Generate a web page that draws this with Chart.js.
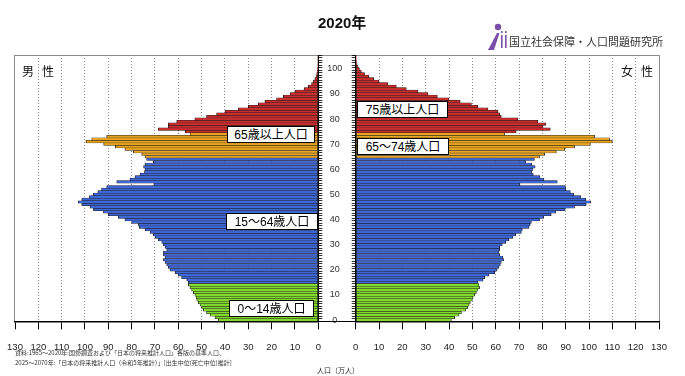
<!DOCTYPE html>
<html><head><meta charset="utf-8">
<script src="https://cdn.jsdelivr.net/npm/chart.js@4"></script>
<style>
html,body{margin:0;padding:0;background:#fff;}
body{width:685px;height:376px;position:relative;overflow:hidden;font-family:"Liberation Sans","Noto Sans CJK JP",sans-serif;color:#111;}
.abs{position:absolute;white-space:nowrap;line-height:1;}
#frame{position:absolute;left:14px;top:55px;width:646px;height:267px;box-sizing:border-box;border-top:1px solid #8c8c8c;border-left:1.5px solid #8c8c8c;border-right:1.5px solid #8c8c8c;border-bottom:1.5px solid #000;}
canvas{position:absolute;top:0;}
.box{position:absolute;background:#fff;border:1px solid #000;box-sizing:border-box;font-size:12px;line-height:1;display:flex;align-items:center;justify-content:center;font-family:"Liberation Sans","Noto Sans CJK JP",sans-serif;color:#000;z-index:5;}
.txt{z-index:5;}
</style>
</head><body>
<div id="frame"></div>
<canvas id="male" width="350" height="376" style="left:0;width:350px;height:376px;"></canvas>
<canvas id="female" width="345" height="376" style="left:340px;width:345px;height:376px;"></canvas>

<div class="abs txt" style="left:318px;top:15px;font-size:15px;font-weight:bold;font-family:'Liberation Sans','Noto Sans CJK JP',sans-serif;">2020年</div>
<svg class="abs" style="left:487px;top:23px;" width="22" height="28" viewBox="0 0 22 28">
  <circle cx="11" cy="4" r="3.2" fill="#7b4fa8"/>
  <path d="M1 27 L10 10 L12.5 10 L7 27 Z" fill="#7b4fa8"/>
  <rect x="14" y="12" width="1.6" height="13" fill="#7b4fa8"/>
  <rect x="18" y="12" width="1.6" height="13" fill="#7b4fa8"/>
  <circle cx="14.8" cy="9" r="1.1" fill="#7b4fa8"/>
  <circle cx="18.8" cy="9" r="1.1" fill="#7b4fa8"/>
</svg>
<div class="abs txt" style="left:509px;top:36px;font-size:11px;color:#333;font-family:'Noto Sans CJK JP',sans-serif;">国立社会保障・人口問題研究所</div>

<div class="abs txt" style="left:22px;top:65px;font-size:12px;font-family:'Noto Sans CJK JP',sans-serif;">男<span style="margin-left:8px">性</span></div>
<div class="abs txt" style="left:621px;top:65px;font-size:12px;font-family:'Noto Sans CJK JP',sans-serif;">女<span style="margin-left:8px">性</span></div>

<div class="box" style="left:227px;top:126px;width:88px;height:17px;">65歳以上人口</div>
<div class="box" style="left:226px;top:213px;width:92px;height:17px;">15～64歳人口</div>
<div class="box" style="left:229px;top:300px;width:85px;height:17px;">0～14歳人口</div>
<div class="box" style="left:357px;top:101px;width:91px;height:17px;">75歳以上人口</div>
<div class="box" style="left:357px;top:138px;width:92px;height:17px;">65～74歳人口</div>

<div class="abs txt" style="left:15px;top:350px;font-size:6px;color:#333;font-family:'Noto Sans CJK JP',sans-serif;">資料:1965～2020年:国勢調査および「日本の将来推計人口」各版の基準人口、</div>
<div class="abs txt" style="left:15px;top:359.5px;font-size:6px;color:#333;font-family:'Noto Sans CJK JP',sans-serif;">2025～2070年:「日本の将来推計人口（令和5年推計）」[出生中位(死亡中位)推計]</div>
<div class="abs txt" style="left:317px;top:367px;font-size:7px;color:#222;font-family:'Noto Sans CJK JP',sans-serif;">人口（万人）</div>

<script>
// ---- data (values in 万人) ----
const ages = [0,1,2,3,4,5,6,7,8,9,10,11,12,13,14,15,16,17,18,19,20,21,22,23,24,25,26,27,28,29,30,31,32,33,34,35,36,37,38,39,40,41,42,43,44,45,46,47,48,49,50,51,52,53,54,55,56,57,58,59,60,61,62,63,64,65,66,67,68,69,70,71,72,73,74,75,76,77,78,79,80,81,82,83,84,85,86,87,88,89,90,91,92,93,94,95,96,97,98,99,100,101,102,103,104,105];

const maleValues = [
 42.9,44.3,46.4,47.9,49.3,50.0,50.7,51.4,52.1,52.4,
 52.9,53.6,54.3,55.0,55.7,55.7,56.4,58.6,60.0,61.4,
 63.6,64.3,65.0,65.7,66.4,65.7,66.4,66.4,65.0,65.7,
 66.4,67.1,68.6,70.0,70.7,72.1,74.3,76.7,77.1,80.0,
 82.9,85.7,90.0,92.1,96.4,97.9,101.4,102.9,101.4,98.1,
 96.4,94.5,92.9,90.7,70.5,86.4,80.7,78.6,76.4,74.5,
 74.3,74.9,74.3,70.7,73.6,74.3,75.7,79.3,82.9,87.0,
 92.0,99.6,97.1,90.7,55.0,57.0,68.6,64.3,64.3,60.7,
 52.9,47.9,43.6,40.0,34.3,30.0,25.7,22.9,17.9,15.0,
 12.1,10.0,6.1,4.3,2.9,2.1,1.5,1.0,0.7,0.45,
 0.3,0.2,0.12,0.08,0.05,0.03
];

const femaleValues = [
 41.0,42.4,44.3,45.3,47.1,48.1,48.6,49.1,50.0,50.3,
 51.0,51.7,52.4,53.1,52.8,52.4,54.6,55.3,57.1,59.6,
 60.6,61.4,62.0,62.4,63.4,63.1,61.7,61.4,61.7,61.7,
 62.8,64.3,65.7,67.4,68.6,71.0,71.4,74.3,74.8,75.3,
 78.8,80.6,83.8,85.7,89.8,93.8,98.8,100.7,98.6,96.4,
 93.4,92.0,90.1,89.9,70.4,86.4,80.7,79.0,76.1,75.4,
 75.8,76.9,75.5,72.9,76.6,78.8,81.0,86.0,89.6,93.8,
 100.6,110.0,108.8,102.4,63.8,68.8,83.4,80.3,81.4,78.0,
 69.5,62.4,61.7,61.0,56.7,52.4,49.6,44.8,40.0,35.0,
 31.0,26.7,21.7,17.4,13.8,10.0,7.7,5.7,3.8,2.4,
 1.6,1.0,0.6,0.35,0.2,0.1
];

const groupNames   = ['0～14歳人口','15～64歳人口','65～74歳人口','75歳以上人口'];
const groupMinAge  = [0, 15, 65, 75];
const groupMaxAge  = [14, 64, 74, 105];
const groupColors  = ['#84D92E','#3F67D6','#E9A521','#C92E2E'];

const xTickLabels = [0,10,20,30,40,50,60,70,80,90,100,110,120,130];
const yTickLabels = [0,10,20,30,40,50,60,70,80,90,100];

function makeDatasets(values){
  return groupNames.map((name, g) => ({
    label: name,
    data: values.map((v, i) => (ages[i] >= groupMinAge[g] && ages[i] <= groupMaxAge[g]) ? v : null),
    backgroundColor: groupColors[g],
    borderColor: '#1c1c1c',
    borderWidth: {top:0.5, bottom:0.5, left:0.8, right:0.8},
    borderSkipped: false,
    barPercentage: 1,
    categoryPercentage: 1
  }));
}

function xScale(reverse){
  return {
    type:'linear', min:0, max:130, reverse: reverse, stacked:true,
    afterBuildTicks: s => { s.ticks = xTickLabels.map(v => ({value:v})); },
    ticks:{ autoSkip:false, maxRotation:0, color:'#222', padding:12,
            font:{family:'Liberation Sans', size:9.5} },
    grid:{ color: c => (c.tick && (c.tick.value === 0 || c.tick.value === 130)) ? 'rgba(0,0,0,0)' : '#8a8a8a',
           lineWidth:1, tickLength:8, tickColor:'#000', tickWidth:1, tickBorderDash:[] },
    border:{ display:true, color:'#000', width:1.5, dash:[1,2] },
    afterFit: s => { s.height = 54.7; }
  };
}

function yScale(position, showLabels, axisWidth){
  return {
    type:'category', position: position, reverse:true, stacked:true,
    ticks:{ autoSkip:false, color:'#333', padding:5, crossAlign:'center',
            font:{family:'Liberation Sans', size:9},
            callback: (v, i) => (showLabels && yTickLabels.indexOf(ages[i]) >= 0) ? String(ages[i]) : '' },
    grid:{ drawOnChartArea:false, tickLength:4, color:'#000', tickColor:'#000', tickWidth:0.8 },
    border:{ display:true, color:'#000', width:1 },
    afterFit: s => { s.width = axisWidth; }
  };
}

function makeChart(id, values, reverse, yPos, showLabels, axisWidth, padding){
  return new Chart(document.getElementById(id), {
    type:'bar',
    data:{ labels: ages.map(String), datasets: makeDatasets(values) },
    options:{
      indexAxis:'y', responsive:false, animation:false, devicePixelRatio:1,
      layout:{ padding: padding },
      plugins:{ legend:{display:false}, tooltip:{enabled:false}, title:{display:false} },
      scales:{ x: xScale(reverse), y: yScale(yPos, showLabels, axisWidth) }
    }
  });
}

makeChart('male', maleValues, true, 'right', true, 31.7, {left:15, right:0, top:55, bottom:0});
makeChart('female', femaleValues, false, 'left', false, 15.7, {left:0, right:26, top:55, bottom:0});
</script>
</body></html>
